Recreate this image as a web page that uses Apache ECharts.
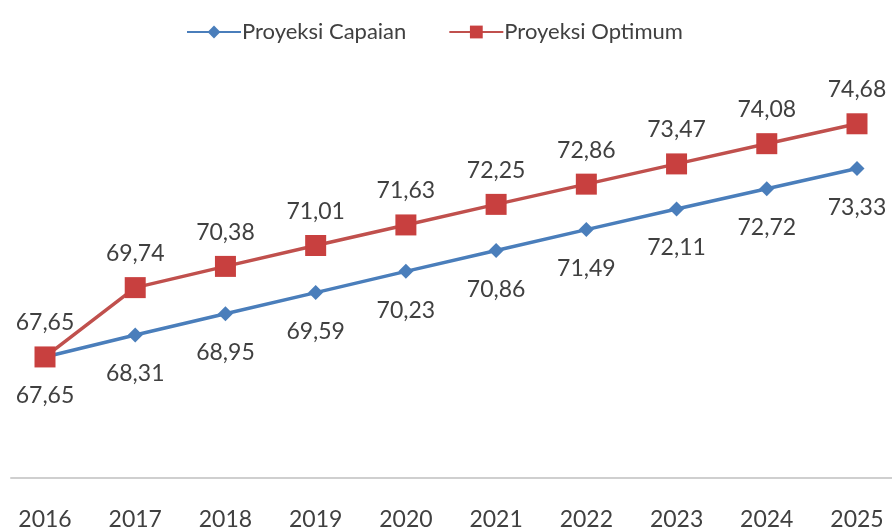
<!DOCTYPE html>
<html>
<head>
<meta charset="utf-8">
<script src="https://cdn.jsdelivr.net/npm/echarts@6/dist/echarts.min.js"></script>
<style>
  html, body { margin: 0; padding: 0; background: #ffffff; }
  #chart { width: 892px; height: 532px; }
</style>
</head>
<body>
<div id="chart"></div>
<script>
// Tahun proyeksi
const years = ['2016', '2017', '2018', '2019', '2020', '2021', '2022', '2023', '2024', '2025'];
// Proyeksi Capaian
const capaian = [67.65, 68.31, 68.95, 69.59, 70.23, 70.86, 71.49, 72.11, 72.72, 73.33];
// Proyeksi Optimum
const optimum = [67.65, 69.74, 70.38, 71.01, 71.63, 72.25, 72.86, 73.47, 74.08, 74.68];

const FONT = 'Lato, "Open Sans", sans-serif';
const TEXT = '#404040';

// Angka desimal ditulis dengan koma
const fmt = p => p.value.toFixed(2).replace('.', ',');

const chart = echarts.init(document.getElementById('chart'), null, { renderer: 'canvas' });

chart.setOption({
  animation: false,
  backgroundColor: '#ffffff',
  textStyle: { fontFamily: FONT },
  legend: {
    top: 16,
    left: 181,
    itemWidth: 54,
    itemHeight: 16,
    itemGap: 42,
    textStyle: { fontFamily: FONT, fontSize: 22, color: TEXT, padding: [0, 0, 0, -4] },
    data: ['Proyeksi Capaian', 'Proyeksi Optimum']
  },
  grid: [
    { left: 45, right: 35, top: 80, bottom: 54 },
    // baseline strip spanning the full width
    { left: 11, right: 0, top: 80, bottom: 54 }
  ],
  xAxis: [
    {
      type: 'category',
      gridIndex: 0,
      data: years,
      boundaryGap: false,
      axisLine: { show: false },
      axisTick: { show: false },
      axisLabel: { fontFamily: FONT, fontSize: 23, color: TEXT, margin: 30 }
    },
    {
      type: 'value',
      gridIndex: 1,
      min: 0,
      max: 1,
      axisLine: { show: true, lineStyle: { color: '#cfcfcf', width: 2 } },
      axisTick: { show: false },
      axisLabel: { show: false },
      splitLine: { show: false }
    }
  ],
  yAxis: [
    { type: 'value', gridIndex: 0, min: 64, max: 76, show: false },
    { type: 'value', gridIndex: 1, min: 0, max: 1, show: false }
  ],
  series: [
    {
      name: 'Proyeksi Capaian',
      type: 'line',
      data: capaian,
      symbol: 'diamond',
      symbolSize: 15,
      showAllSymbol: true,
      lineStyle: { color: '#4A7EBB', width: 3.5 },
      itemStyle: { color: '#4A7EBB' },
      label: {
        show: true,
        position: 'bottom',
        distance: 20,
        fontFamily: FONT,
        fontSize: 23,
        color: TEXT,
        formatter: fmt
      }
    },
    {
      name: 'Proyeksi Optimum',
      type: 'line',
      data: optimum,
      symbol: 'rect',
      symbolSize: 21,
      showAllSymbol: true,
      lineStyle: { color: '#C0504D', width: 3.5 },
      itemStyle: { color: '#C8403F' },
      label: {
        show: true,
        position: 'top',
        distance: 12,
        fontFamily: FONT,
        fontSize: 23,
        color: TEXT,
        formatter: fmt
      }
    }
  ]
});
</script>
</body>
</html>
